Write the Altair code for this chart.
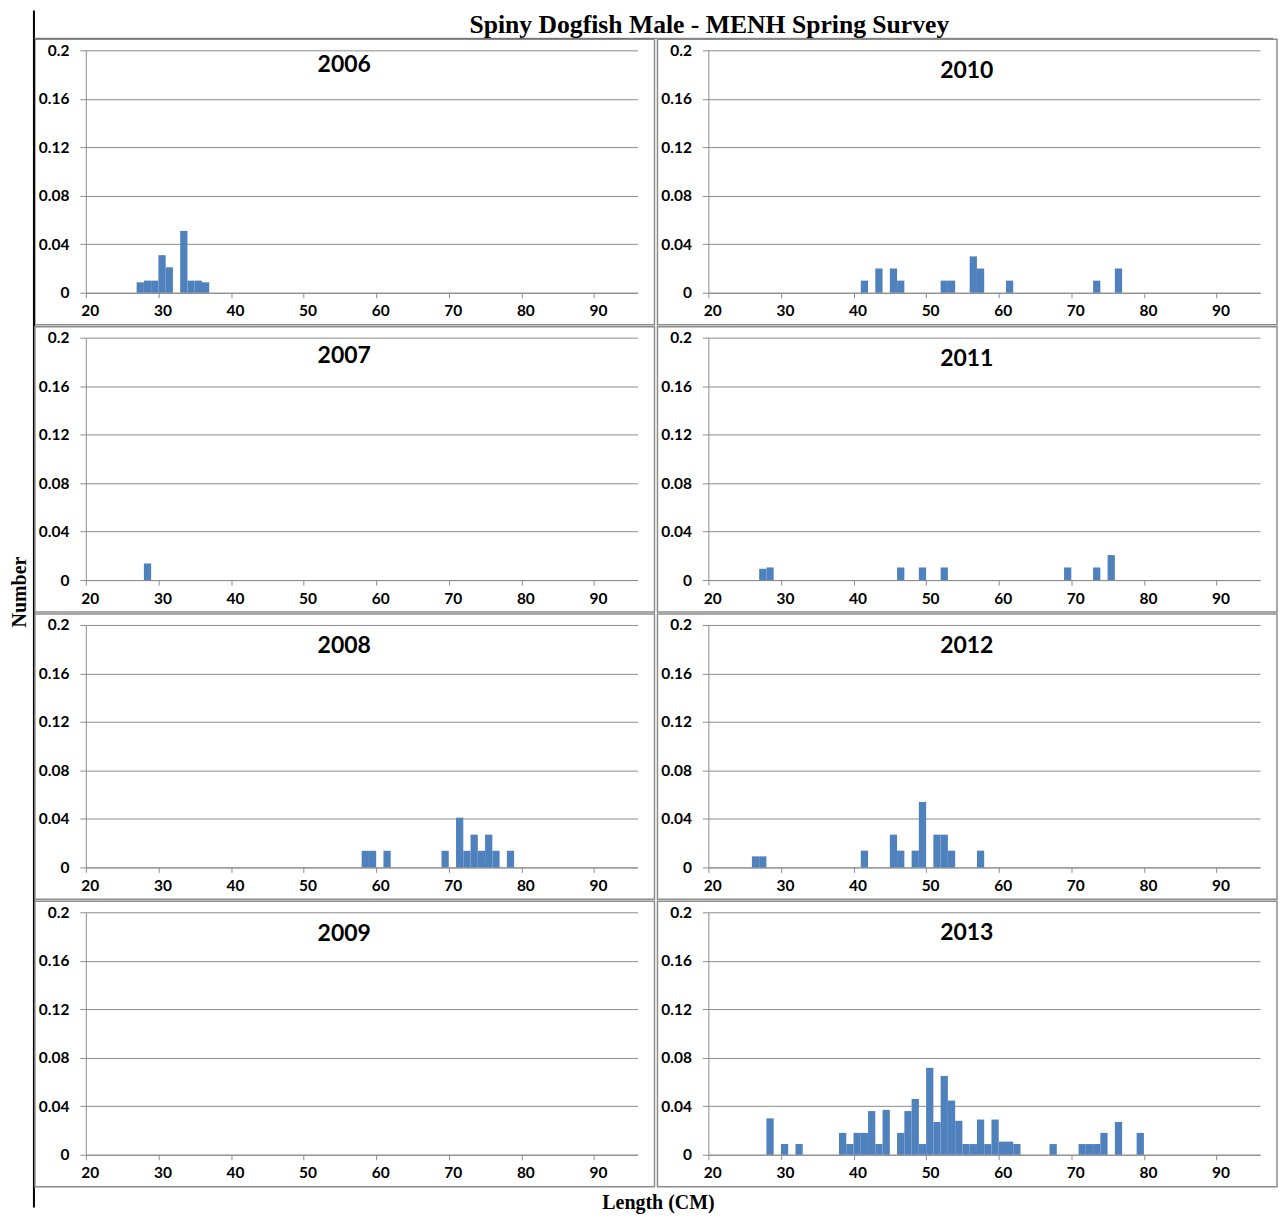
import altair as alt
import pandas as pd

# ---- data (length bin start in cm, proportion) ----
LEN_2006 = [27, 28, 29, 30, 31, 33, 34, 35, 36]
NUM_2006 = [0.0086, 0.01, 0.01, 0.031, 0.021, 0.051, 0.01, 0.01, 0.0086]

LEN_2007 = [28]
NUM_2007 = [0.0137]

LEN_2008 = [58, 59, 61, 69, 71, 72, 73, 74, 75, 76, 78]
NUM_2008 = [0.0137, 0.0137, 0.0137, 0.0137, 0.041, 0.0137, 0.027, 0.0137, 0.027, 0.0137, 0.0137]

LEN_2009 = []
NUM_2009 = []

LEN_2010 = [41, 43, 45, 46, 52, 53, 56, 57, 61, 73, 76]
NUM_2010 = [0.01, 0.02, 0.02, 0.01, 0.01, 0.01, 0.03, 0.02, 0.01, 0.01, 0.02]

LEN_2011 = [27, 28, 46, 49, 52, 69, 73, 75]
NUM_2011 = [0.0093, 0.0104, 0.0104, 0.0104, 0.0104, 0.0104, 0.0104, 0.0206]

LEN_2012 = [26, 27, 41, 45, 46, 48, 49, 51, 52, 53, 57]
NUM_2012 = [0.0091, 0.0091, 0.0138, 0.027, 0.0138, 0.0138, 0.054, 0.027, 0.027, 0.0138, 0.0138]

LEN_2013 = [28, 30, 32, 38, 39, 40, 41, 42, 43, 44, 46, 47, 48, 49, 50, 51, 52, 53, 54,
            55, 56, 57, 58, 59, 60, 61, 62, 67, 71, 72, 73, 74, 76, 79]
NUM_2013 = [0.030, 0.0088, 0.0088, 0.018, 0.0088, 0.018, 0.018, 0.036, 0.0088, 0.037,
            0.018, 0.036, 0.046, 0.0088, 0.0717, 0.027, 0.065, 0.0447, 0.028,
            0.0088, 0.0088, 0.029, 0.0088, 0.029, 0.0108, 0.0108, 0.0088,
            0.0088, 0.0088, 0.0088, 0.0088, 0.018, 0.027, 0.018]

X_TICKS = [20, 30, 40, 50, 60, 70, 80, 90]
Y_TICKS = [0, 0.04, 0.08, 0.12, 0.16, 0.2]

TITLE = "Spiny Dogfish Male - MENH Spring Survey"
Y_TITLE = "Number"
X_TITLE = "Length (CM)"

W, H = 553, 243
GRAY = "#8c8c8c"
BAR = "#4f81bd"
SANS = "Lato"
SERIF = "Liberation Serif"

one = pd.DataFrame({"a": [0]})


def panel(year, lens, nums, title_y, extras=False):
    df = pd.DataFrame({"start": pd.Series(lens, dtype=float),
                       "end": pd.Series([v + 1 for v in lens], dtype=float),
                       "value": pd.Series(nums, dtype=float)})
    border = alt.Chart(one).mark_rect(filled=False, stroke=GRAY, strokeWidth=1.5).encode(
        x=alt.value(-51), x2=alt.value(570), y=alt.value(-11), y2=alt.value(275))
    bars = alt.Chart(df).mark_rect(color=BAR).encode(
        x=alt.X("start:Q",
                scale=alt.Scale(domain=[20, 96], nice=False, zero=False),
                axis=alt.Axis(values=X_TICKS, title=None, grid=False, format="d",
                              tickSize=5, labelPadding=6, labelFlush=False,
                              labelOffset=4)),
        x2="end:Q",
        y=alt.Y("value:Q",
                scale=alt.Scale(domain=[0, 0.2], nice=False),
                axis=alt.Axis(values=Y_TICKS, title=None, grid=True, format=".2~f",
                              tickSize=6, labelPadding=11, labelFlush=False)),
        y2=alt.datum(0),
    )
    label = alt.Chart(pd.DataFrame({"t": [str(year)]})).mark_text(
        font=SANS, fontWeight="bold", fontSize=23, baseline="middle", align="center",
        color="black").encode(text="t:N", x=alt.value(259), y=alt.value(title_y))
    layers = [border, bars, label]
    if extras:
        layers += [
            alt.Chart(one).mark_rule(color="white", strokeWidth=1).encode(
                x=alt.value(-77), x2=alt.value(-76), y=alt.value(0)),
            alt.Chart(one).mark_rule(color="black", strokeWidth=2).encode(
                x=alt.value(-52), y=alt.value(-40), y2=alt.value(1160)),
            alt.Chart(one).mark_rule(color="#666666", strokeWidth=1).encode(
                x=alt.value(-52), x2=alt.value(1190), y=alt.value(-12)),
            alt.Chart(pd.DataFrame({"t": [TITLE]})).mark_text(
                font=SERIF, fontWeight="bold", fontSize=25.7, baseline="middle",
                align="center", color="black").encode(
                text="t:N", x=alt.value(625), y=alt.value(-25)),
            alt.Chart(pd.DataFrame({"t": [Y_TITLE]})).mark_text(
                font=SERIF, fontWeight="bold", fontSize=20, baseline="middle",
                align="center", angle=270, color="black").encode(
                text="t:N", x=alt.value(-66), y=alt.value(543)),
            alt.Chart(pd.DataFrame({"t": [X_TITLE]})).mark_text(
                font=SERIF, fontWeight="bold", fontSize=20, baseline="middle",
                align="center", color="black").encode(
                text="t:N", x=alt.value(574), y=alt.value(1155)),
        ]
    return alt.layer(*layers).properties(width=W, height=H)


panels = [
    panel(2006, LEN_2006, NUM_2006, 15, extras=True),
    panel(2010, LEN_2010, NUM_2010, 21),
    panel(2007, LEN_2007, NUM_2007, 18),
    panel(2011, LEN_2011, NUM_2011, 21),
    panel(2008, LEN_2008, NUM_2008, 21),
    panel(2012, LEN_2012, NUM_2012, 21),
    panel(2009, LEN_2009, NUM_2009, 22),
    panel(2013, LEN_2013, NUM_2013, 21),
]

chart = alt.concat(*panels, columns=2, spacing=alt.RowColnumber(row=45, column=71),
                   bounds="flush").properties(padding=0).configure_view(
    stroke=None).configure_axis(
    domainColor=GRAY, tickColor=GRAY, gridColor=GRAY, gridOpacity=1,
    labelFont=SANS, labelFontWeight="bold", labelFontSize=15.5, labelColor="black",
    domainWidth=1, tickWidth=1, gridWidth=1)

chart.save("out.html", embed_options={"renderer": "svg", "actions": False})
